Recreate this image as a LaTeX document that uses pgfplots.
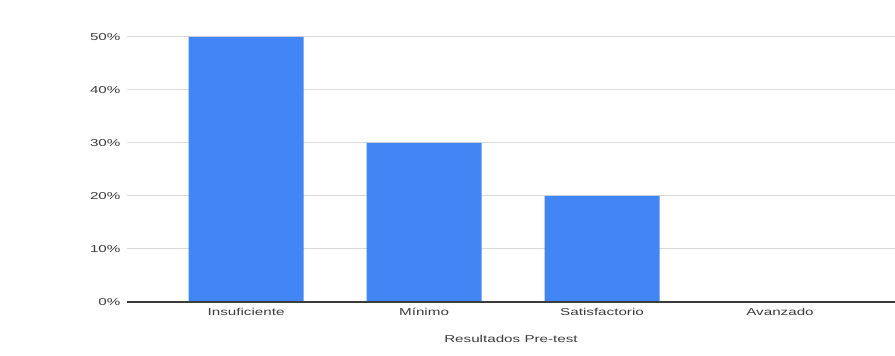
\documentclass[border=0pt]{standalone}
\usepackage{pgfplots}
\pgfplotsset{compat=1.18}
\usepackage{fontspec}
\setmainfont{Liberation Sans}[FakeStretch=1.52]
\definecolor{barblue}{HTML}{4285F4}
\definecolor{gridgray}{HTML}{D9D9D9}
\definecolor{txtgray}{HTML}{3C3C3C}
\begin{document}
\begin{tikzpicture}[x=1pt,y=1pt]
\path[use as bounding box] (0,0) rectangle (895,356);
\begin{axis}[
  at={(127pt,54pt)}, anchor=south west,
  scale only axis, width=768pt, height=265pt,
  xmin=-0.669, xmax=3.646, ymin=0, ymax=50,
  axis line style={draw=none},
  ytick={0,10,20,30,40,50},
  yticklabel={\pgfmathprintnumber{\tick}\%},
  /pgf/number format/assume math mode=true,
  xtick={0,1,2,3},
  xticklabels={Insuficiente,Mínimo,Satisfactorio,Avanzado},
  tick style={draw=none},
  ymajorgrids, grid style={gridgray, line width=1pt},
  ticklabel style={font=\fontsize{10}{12}\selectfont, text=txtgray},
  yticklabel style={xshift=-3pt},
  xticklabel style={yshift=-3pt},
  xlabel={Resultados Pre-test},
  xlabel style={font=\fontsize{10}{12}\selectfont, text=txtgray, yshift=-12pt},
  clip=false,
]
\addplot[ybar, bar width=115pt, fill=barblue, draw=none] coordinates {(0,50) (1,30) (2,20) (3,0)};
\draw[color=txtgray, line width=1.4pt] (axis cs:-0.669,0) -- (axis cs:3.646,0);
\end{axis}
\end{tikzpicture}
\end{document}
